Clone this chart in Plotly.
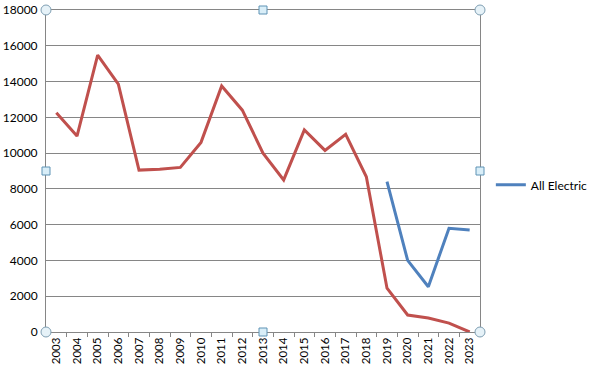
import plotly.graph_objects as go

years = [str(y) for y in range(2003, 2024)]
total_values = [12250, 10950, 15480, 13860, 9050, 9100, 9200, 10600, 13750, 12400,
                10000, 8500, 11300, 10150, 11050, 8680, 2450, 950, 780, 500, 0]
electric_years = ["2019", "2020", "2021", "2022", "2023"]
electric_values = [8400, 4000, 2530, 5800, 5700]
y_ticks = list(range(0, 18001, 2000))

fig = go.Figure()
fig.add_trace(go.Scatter(x=years, y=total_values, mode="lines", name="Total",
                         line=dict(color="#C0504D", width=3), showlegend=False))
fig.add_trace(go.Scatter(x=electric_years, y=electric_values, mode="lines", name="All Electric",
                         line=dict(color="#4F81BD", width=3)))

font = dict(family="Lato, Open Sans, sans-serif", size=12, color="#000000")
xfont = dict(family="Lato, Open Sans, sans-serif", size=11.5, color="#000000")

shapes = []
def handle(xp, yp, kind):
    if kind == "circle":
        r = 5
        fill, edge = "#e6f2f8", "#7f9fb3"
    else:
        r = 4
        fill, edge = "#d9eef8", "#5f93b5"
    shapes.append(dict(type=kind if kind == "circle" else "rect", xref="paper", yref="paper",
                       xsizemode="pixel", ysizemode="pixel", xanchor=xp, yanchor=yp,
                       x0=-r, x1=r, y0=-r, y1=r, fillcolor=fill,
                       line=dict(color=edge, width=1), layer="above"))

for xp, yp in [(0, 0), (0, 1), (1, 0), (1, 1)]:
    handle(xp, yp, "circle")
for xp, yp in [(0.5, 0), (0.5, 1), (0, 0.5), (1, 0.5)]:
    handle(xp, yp, "square")

fig.update_layout(
    width=590, height=375,
    margin=dict(l=46, r=110, t=10, b=43, autoexpand=False),
    paper_bgcolor="white", plot_bgcolor="white",
    font=font,
    xaxis=dict(type="category", categoryorder="array", categoryarray=years,
               tickangle=-90, tickson="boundaries", ticks="outside", ticklen=4,
               tickcolor="#868686", showline=True, linecolor="#868686", linewidth=1,
               mirror=True, showgrid=False, tickfont=xfont, range=[-0.5, 20.5],
               automargin=False),
    yaxis=dict(range=[0, 18000], tickvals=y_ticks, tickformat="d", showgrid=True,
               gridcolor="#868686", gridwidth=1, showline=True, linecolor="#868686",
               linewidth=1, mirror=True, ticks="", tickfont=font, zeroline=False,
               ticklabelstandoff=5, automargin=False),
    legend=dict(x=1.025, y=0.457, xanchor="left", yanchor="middle",
                bgcolor="rgba(0,0,0,0)", font=font, itemwidth=30),
    shapes=shapes,
)

fig.write_html("out.html", config={"displayModeBar": False},
               post_script="document.body.style.margin='0';document.body.style.overflow='hidden';")
